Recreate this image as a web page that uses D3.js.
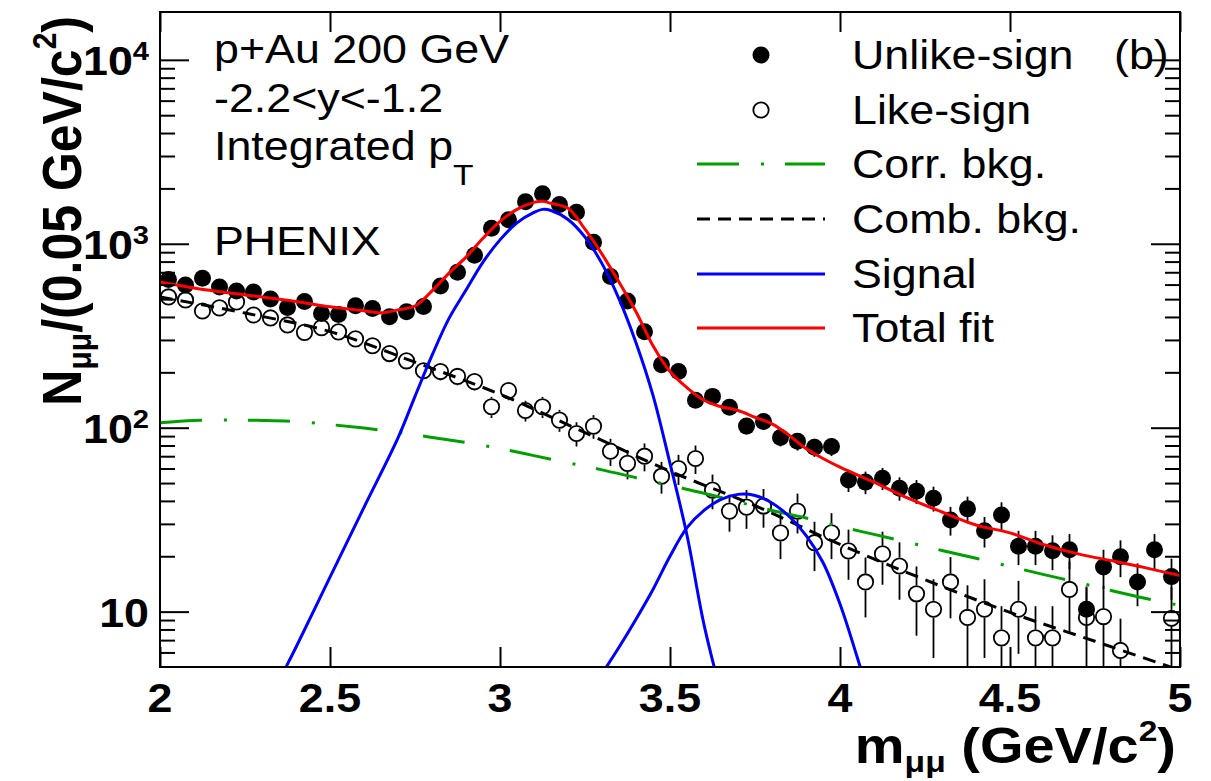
<!DOCTYPE html>
<html><head><meta charset="utf-8">
<script src="https://cdn.jsdelivr.net/npm/d3@7"></script>
<style>body{margin:0;background:#fff}svg{display:block}</style>
</head><body>
<svg id="c" width="1211" height="781"></svg>
<script>
// ---------- DATA ----------
const massBins = [2.025,2.075,2.125,2.175,2.225,2.275,2.325,2.375,2.425,2.475,2.525,2.575,2.625,2.675,2.725,2.775,2.825,2.875,2.925,2.975,
  3.025,3.075,3.125,3.175,3.225,3.275,3.325,3.375,3.425,3.475,3.525,3.575,3.625,3.675,3.725,3.775,3.825,3.875,3.925,3.975,
  4.025,4.075,4.125,4.175,4.225,4.275,4.325,4.375,4.425,4.475,4.525,4.575,4.625,4.675,4.725,4.775,4.825,4.875,4.925,4.975];
const unlikeSign = [640,597,650,582,553,547,501,450,486,418,413,460,445,401,427,456,589,701,865,1215,
  1350,1690,1870,1637,1483,1020,664,489,332,220,202,141,148,129,102,108,88.5,84.3,78.2,79,
  51.9,50.6,53.1,46.9,45.2,41.4,31.5,36.2,27.5,33.5,22.7,22.7,21.4,21.7,10.3,17.5,19.9,14.5,21.7,15.5];
const unlikeErr = [25.3,24.4,25.5,24.1,23.5,23.4,22.4,21.2,22,20.4,20.3,21.4,21.1,20,20.7,21.4,24.3,26.5,29.4,34.9,
  36.7,41.1,43.2,40.5,38.5,31.9,25.8,22.1,18.2,14.8,14.2,11.9,12.2,11.4,10.1,10.4,9.4,9.2,8.8,8.9,
  7.2,7.1,7.3,6.8,6.7,6.4,5.6,6.0,5.2,5.8,4.8,4.8,4.6,4.7,3.2,4.2,4.5,3.8,4.7,3.9];
const likeSign = [514,495,431,448,483,410,395,362,330,350,332,304,279,253,231,204,202,190,178,130,
  159,124,130,110,93,102,74.5,64,70,54.5,60,68,45.8,35.2,37.0,37.5,26.8,35.2,23.7,26.8,
  21.4,14.5,20.6,17.7,12.5,10.3,14.5,9.3,10.3,7.2,10.3,7.2,7.2,13.2,9.3,9.4,6.15,null,null,9.2];
const likeErr = [33,32,30,31,32,29,29,28,26,27,26,25,24,23,22,21,21,20,19,17,
  18,16,17,15,14,15,12.5,11.6,12.1,10.7,11.2,12,9.8,8,8.8,8.9,7.5,8.6,7.1,7.5,
  6.5,5.2,6.6,6.1,5.1,4.7,5.3,4.6,4.7,3.5,4.4,3.5,3.5,5.5,4.4,4.4,3,0,0,4.4];

const corrX = [2.0,2.1,2.2,2.3,2.4,2.5,2.6,2.7,2.8,2.9,3.0,3.1,3.2,3.3,3.4,3.5,3.6,3.7,3.8,3.9,4.0,4.1,4.2,4.3,4.4,4.5,4.6,4.7,4.8,4.9,5.0];
const corrBkg = [106.5,109.5,110,109.5,108,104,99.5,94.5,88.5,83,77,70.5,64.5,59,53.5,48.5,44,39.5,35.5,32.3,29,26.3,23.8,21.5,19.5,17.6,15.9,14.4,13,11.8,10.8];

const combX = [2.0,2.25,2.5,2.75,3.0,3.25,3.5,3.75,4.0,4.25,4.5,4.75,5.0];
const combBkg = [514,420,333,227,152,94,58,37.7,23.2,14.9,9.9,6.9,4.8];

const jpsiX = [2.30,2.35,2.40,2.50,2.60,2.70,2.75,2.80,2.85,2.90,2.95,3.00,3.05,3.10,3.125,3.15,3.20,3.25,3.30,3.35,3.40,3.45,3.50,3.55,3.60,3.65];
const jpsiSignal = [2.7,4.2,6.4,15.4,36.9,88,148,247,393,560,795,1050,1300,1480,1538,1517,1355,1086,780,502,290,150,64,26,8.5,3.6];

const psi2sX = [3.30,3.35,3.40,3.45,3.50,3.55,3.60,3.65,3.70,3.75,3.80,3.85,3.90,3.95,4.00,4.05,4.10];
const psi2sSignal = [4.6,6.4,9.1,13.2,20,28.6,35.5,40.8,43.4,42.8,39.0,33.0,26.0,18.5,11.0,5.7,2.8];

const totalX = [2.0,2.1,2.2,2.3,2.4,2.5,2.6,2.65,2.7,2.75,2.8,2.85,2.9,2.95,3.0,3.05,3.1,3.125,3.15,3.2,3.25,3.3,3.35,3.4,3.45,3.5,3.55,3.6,3.65,3.7,3.75,3.8,3.85,3.9,3.95,4.0,4.1,4.2,4.3,4.4,4.5,4.6,4.7,4.8,4.9,5.0];
const totalFit = [620,575,541,514,486,454,432,421,437,459,554,693,846,1072,1325,1538,1679,1701,1660,1560,1200,879,620,427,279,202,165,141,130,124,114,105,91,77,68,61,50.6,41.4,34.8,29.6,26.8,23.1,20.6,18.9,17.3,15.7];

const xTickValues = [2,2.5,3,3.5,4,4.5,5];
const xTickLabels = ["2","2.5","3","3.5","4","4.5","5"];
const yMajorValues = [10,100,1000,10000];
const yMajorExp = ["","2","3","4"];

const legendLabels = ["Unlike-sign","Like-sign","Corr. bkg.","Comb. bkg.","Signal","Total fit"];
const infoLines = ["p+Au 200 GeV","-2.2<y<-1.2"];

// ---------- LAYOUT ----------
const svg = d3.select("#c");
const M = {l:160, r:1180, t:12, b:667};
const x = d3.scaleLinear().domain([2,5]).range([M.l,M.r]);
const y = d3.scaleLog().domain([5,18200]).range([M.b,M.t]);
const FONT = "'Liberation Sans', Arial, Helvetica, sans-serif";
const SX = 1.12;

function label(parent, px, py, anchor, size, weight, parts, rot) {
  const t = parent.append("text")
    .attr("transform", rot ? `translate(${px},${py}) rotate(-90) scale(1,${SX})` : `translate(${px},${py}) scale(${SX},1)`)
    .attr("text-anchor", anchor).attr("font-family", FONT)
    .attr("font-size", size).attr("font-weight", weight).attr("fill", "#000");
  let cur = 0;
  parts.forEach(p => {
    const o = p.dy || 0;
    const ts = t.append("tspan").text(p.t).attr("dy", o - cur);
    if (p.fs) ts.attr("font-size", p.fs);
    cur = o;
  });
  return t;
}

svg.append("defs").append("clipPath").attr("id","clip")
  .append("rect").attr("x",M.l).attr("y",M.t).attr("width",M.r-M.l).attr("height",M.b-M.t);
const plot = svg.append("g").attr("clip-path","url(#clip)");

// axes ticks (inside)
function styleAxis(g){ g.select(".domain").remove(); g.selectAll("line").attr("stroke","#000").attr("stroke-width",2); g.selectAll("text").remove(); }
svg.append("g").attr("transform",`translate(0,${M.b})`).call(d3.axisBottom(x).tickValues(xTickValues).tickSize(-20)).call(styleAxis);
svg.append("g").attr("transform",`translate(0,${M.t})`).call(d3.axisTop(x).tickValues(xTickValues).tickSize(-20)).call(styleAxis);
const minorVals = y.ticks().filter(v => !yMajorValues.includes(v) && v > 5.01 && v < 18200);
svg.append("g").attr("transform",`translate(${M.l},0)`).call(d3.axisLeft(y).tickValues(yMajorValues).tickSize(-29)).call(styleAxis);
svg.append("g").attr("transform",`translate(${M.l},0)`).call(d3.axisLeft(y).tickValues(minorVals).tickSize(-15)).call(styleAxis);
svg.append("g").attr("transform",`translate(${M.r},0)`).call(d3.axisRight(y).tickValues(yMajorValues).tickSize(-29)).call(styleAxis);
svg.append("g").attr("transform",`translate(${M.r},0)`).call(d3.axisRight(y).tickValues(minorVals).tickSize(-15)).call(styleAxis);

// ---------- DATA MARKS ----------
const R = 8.5;
// like-sign (open)
const likeG = plot.append("g");
likeSign.forEach((v,i) => {
  if (v == null) return;
  const cx = x(massBins[i]), cy = y(v), e = likeErr[i];
  if (e > 0) {
    const yt = y(v + e), yb = y(Math.max(v - e, 0.5));
    if (yt < cy - R) likeG.append("line").attr("x1",cx).attr("x2",cx).attr("y1",yt).attr("y2",cy-R).attr("stroke","#000").attr("stroke-width",1.8);
    if (yb > cy + R) likeG.append("line").attr("x1",cx).attr("x2",cx).attr("y1",cy+R).attr("y2",yb).attr("stroke","#000").attr("stroke-width",1.8);
  }
  likeG.append("circle").attr("cx",cx).attr("cy",cy).attr("r",R-0.8).attr("fill","none").attr("stroke","#000").attr("stroke-width",1.8);
});
// unlike-sign (filled)
const unG = plot.append("g");
unlikeSign.forEach((v,i) => {
  const cx = x(massBins[i]), cy = y(v), e = unlikeErr[i];
  unG.append("line").attr("x1",cx).attr("x2",cx).attr("y1",y(v+e)).attr("y2",y(Math.max(v-e,0.5))).attr("stroke","#000").attr("stroke-width",1.8);
  unG.append("circle").attr("cx",cx).attr("cy",cy).attr("r",R).attr("fill","#000");
});

// ---------- CURVES ----------
function curve(xs, vs, color, dash) {
  const line = d3.line().x(d => x(d[0])).y(d => y(d[1])).curve(d3.curveCatmullRom.alpha(0.5));
  plot.append("path").datum(xs.map((xx,i) => [xx, vs[i]]))
    .attr("d", line).attr("fill","none").attr("stroke",color).attr("stroke-width",3)
    .attr("stroke-dasharray", dash || null);
}
curve(combX, combBkg, "#000", "13,8");
curve(corrX, corrBkg, "#00a000", "42,22,3,21");
curve(jpsiX, jpsiSignal, "#0000ff");
curve(psi2sX, psi2sSignal, "#0000ff");
curve(totalX, totalFit, "#ff0000");

// frame
svg.append("rect").attr("x",M.l).attr("y",M.t).attr("width",M.r-M.l).attr("height",M.b-M.t)
  .attr("fill","none").attr("stroke","#000").attr("stroke-width",2);

// ---------- LABELS ----------
xTickValues.forEach((v,i) => label(svg, x(v), 712, "middle", 40, "bold", [{t:xTickLabels[i]}]));
yMajorValues.forEach((v,i) => {
  const parts = yMajorExp[i] ? [{t:"10"},{t:yMajorExp[i], fs:26, dy:-15}] : [{t:"10"}];
  label(svg, 149, y(v)+15, "end", 40, "bold", parts);
});
label(svg, 1176, 763, "end", 50, "bold", [{t:"m"},{t:"μμ", fs:30, dy:9},{t:" (GeV/c"},{t:"2", fs:30, dy:-22},{t:")"}]);
label(svg, 81, 16, "end", 50, "bold", [{t:"N"},{t:"μμ", fs:30, dy:9},{t:"/(0.05 GeV/c"},{t:"2", fs:30, dy:-22},{t:")"}], true);

label(svg, 214, 63, "start", 40, "normal", [{t:infoLines[0]}]);
label(svg, 214, 112, "start", 40, "normal", [{t:infoLines[1]}]);
label(svg, 214, 160, "start", 40, "normal", [{t:"Integrated p"},{t:"T", fs:30, dy:25}]);
label(svg, 214, 255, "start", 40, "normal", [{t:"PHENIX"}]);

// ---------- LEGEND ----------
const legRows = [55,110,164,219,274,328];
const lg = svg.append("g");
lg.append("circle").attr("cx",761).attr("cy",legRows[0]).attr("r",R).attr("fill","#000");
lg.append("circle").attr("cx",761).attr("cy",legRows[1]).attr("r",R-0.8).attr("fill","none").attr("stroke","#000").attr("stroke-width",1.8);
const legStyles = [["#00a000","42,22,3,21"],["#000","13,8"],["#0000ff",null],["#ff0000",null]];
legStyles.forEach((s,k) => {
  lg.append("line").attr("x1",697).attr("x2",825).attr("y1",legRows[k+2]).attr("y2",legRows[k+2])
    .attr("stroke",s[0]).attr("stroke-width",3).attr("stroke-dasharray",s[1]);
});
legendLabels.forEach((l,k) => label(lg, 852, legRows[k]+14, "start", 40, "normal", [{t:l}]));
label(lg, 1114, 69, "start", 40, "normal", [{t:"(b)"}]);
</script>
</body></html>
